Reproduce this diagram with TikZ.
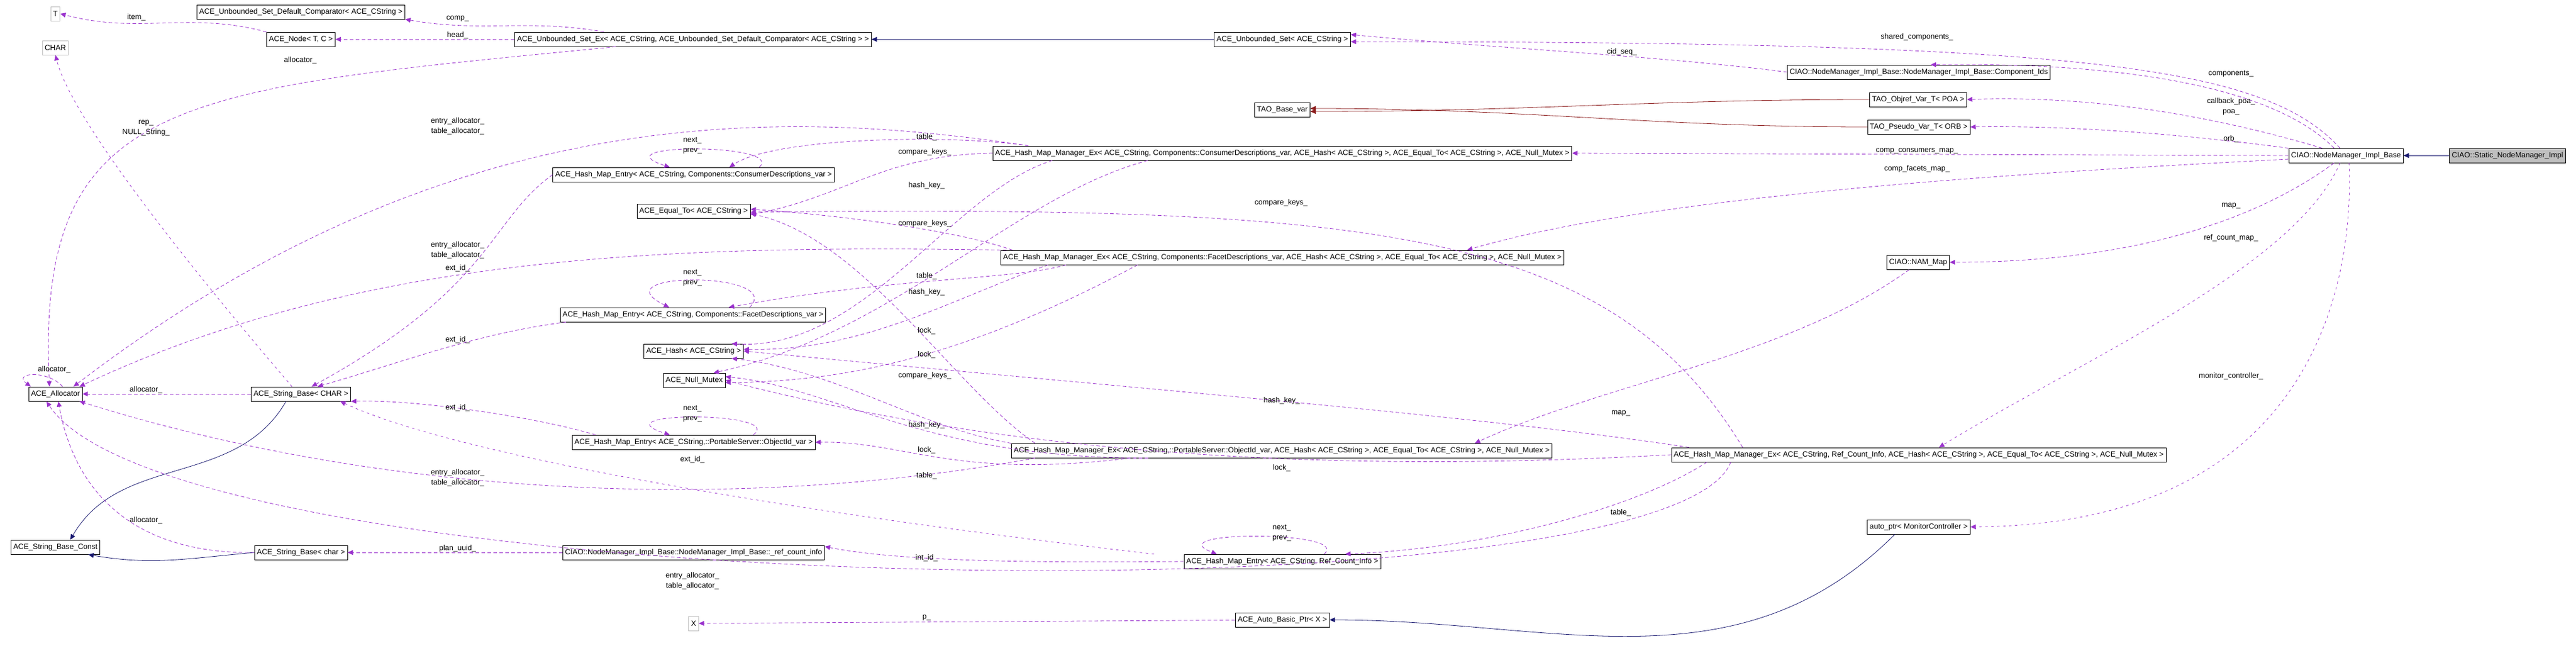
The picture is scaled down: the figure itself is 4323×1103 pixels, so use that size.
\documentclass[tikz,border=0pt]{standalone}
\usepackage{fontspec}
\setmainfont{Liberation Sans}
\usetikzlibrary{arrows.meta}
\definecolor{dorchid}{RGB}{154,50,205}
\definecolor{mnavy}{RGB}{25,25,112}
\definecolor{fbrick}{RGB}{139,26,26}
\newcommand\lbl{\fontsize{12.6}{17}\selectfont}
\AtBeginDocument{\catcode`\_=12}
\begin{document}
\begin{tikzpicture}[x=1pt, y=-1pt,
    cls/.style = {draw=black, thick, rectangle, minimum height=24, inner sep=4, font=\lbl, fill=white},
    undoc/.style = {cls, draw=black!25},
    lab/.style = {font=\lbl, inner sep=1, align=center},
    mem/.style = {draw=dorchid, thick, dash pattern=on 6 off 4, -{Triangle[length=9,width=8]}},
    inh/.style = {draw=mnavy, thick, -{Triangle[length=9,width=8]}},
    tpl/.style = {draw=fbrick, thick, -{Triangle[length=9,width=8]}}
  ]
  \useasboundingbox (0,0) rectangle (4323,1103);
  % classes, column by column
  \node[undoc] (T) at (93,23) {T};
  \node[undoc] (char) at (93,80) {CHAR};
  \node[cls] (alloc) at (93,661) {ACE_Allocator};
  \node[cls] (sbconst) at (93,918) {ACE_String_Base_Const};

  \node[cls] (cmp) at (505,20) {ACE_Unbounded_Set_Default_Comparator< ACE_CString >};
  \node[cls] (anode) at (505,66) {ACE_Node< T, C >};
  \node[cls] (sbC) at (505,661) {ACE_String_Base< CHAR >};
  \node[cls] (sbc) at (505,927) {ACE_String_Base< char >};

  \node[cls] (useex) at (1163,66) {ACE_Unbounded_Set_Ex< ACE_CString, ACE_Unbounded_Set_Default_Comparator< ACE_CString > >};
  \node[cls] (ce) at (1164,293) {ACE_Hash_Map_Entry< ACE_CString, Components::ConsumerDescriptions_var >};
  \node[cls] (eq) at (1164,354) {ACE_Equal_To< ACE_CString >};
  \node[cls] (fe) at (1163,528) {ACE_Hash_Map_Entry< ACE_CString, Components::FacetDescriptions_var >};
  \node[cls] (hash) at (1164,589) {ACE_Hash< ACE_CString >};
  \node[cls] (nm) at (1165,638) {ACE_Null_Mutex};
  \node[cls] (pe) at (1164,742) {ACE_Hash_Map_Entry< ACE_CString,::PortableServer::ObjectId_var >};
  \node[cls] (rci) at (1164,927) {CIAO::NodeManager_Impl_Base::NodeManager_Impl_Base::_ref_count_info};
  \node[undoc] (X) at (1164,1046) {X};

  \node[cls] (uset) at (2152,66) {ACE_Unbounded_Set< ACE_CString >};
  \node[cls] (tbv) at (2152,184) {TAO_Base_var};
  \node[cls] (cmgr) at (2152,257) {ACE_Hash_Map_Manager_Ex< ACE_CString, Components::ConsumerDescriptions_var, ACE_Hash< ACE_CString >, ACE_Equal_To< ACE_CString >, ACE_Null_Mutex >};
  \node[cls] (fmgr) at (2152,432) {ACE_Hash_Map_Manager_Ex< ACE_CString, Components::FacetDescriptions_var, ACE_Hash< ACE_CString >, ACE_Equal_To< ACE_CString >, ACE_Null_Mutex >};
  \node[cls] (pmgr) at (2151,756) {ACE_Hash_Map_Manager_Ex< ACE_CString,::PortableServer::ObjectId_var, ACE_Hash< ACE_CString >, ACE_Equal_To< ACE_CString >, ACE_Null_Mutex >};
  \node[cls] (re) at (2152,942) {ACE_Hash_Map_Entry< ACE_CString, Ref_Count_Info >};
  \node[cls] (abp) at (2152,1040) {ACE_Auto_Basic_Ptr< X >};

  \node[cls] (cids) at (3220,121) {CIAO::NodeManager_Impl_Base::NodeManager_Impl_Base::Component_Ids};
  \node[cls] (objref) at (3219,167) {TAO_Objref_Var_T< POA >};
  \node[cls] (pseudo) at (3220,213) {TAO_Pseudo_Var_T< ORB >};
  \node[cls] (nam) at (3219,440) {CIAO::NAM_Map};
  \node[cls] (rmgr) at (3220,763) {ACE_Hash_Map_Manager_Ex< ACE_CString, Ref_Count_Info, ACE_Hash< ACE_CString >, ACE_Equal_To< ACE_CString >, ACE_Null_Mutex >};
  \node[cls] (aptr) at (3220,884) {auto_ptr< MonitorController >};

  \node[cls] (nmib) at (3937,261) {CIAO::NodeManager_Impl_Base};
  \node[cls, fill=black!25] (stat) at (4208,261) {CIAO::Static_NodeManager_Impl};

  % inheritance
  \draw[inh] (stat) -- (nmib);
  \draw[inh] (uset) -- (useex);
  \draw[inh] ([xshift=-25]sbC.south) to[out=240,in=60] ([xshift=25]sbconst.north);
  \draw[inh] (sbc.west) to[out=185,in=-10] ([xshift=-20]sbconst.south east);
  \draw[inh] ([xshift=-40]aptr.south) to[out=225,in=0] (abp.east);
  \draw[tpl] (objref.west) to[out=180,in=0] ([yshift=-3]tbv.east);
  \draw[tpl] (pseudo.west) to[out=180,in=0] ([yshift=2]tbv.east);

  % members, left part
  \draw[mem] (anode.north west) to[out=165,in=-15] (T.east);
  \draw[mem] ([xshift=150]useex.north west) to[out=170,in=-10] (cmp.south east);
  \draw[mem] (useex.west) -- (anode.east);
  \draw[mem] ([xshift=170]useex.south west) .. controls (300,150) and (60,160) .. ([xshift=-10]alloc.north);
  \draw[mem, dash pattern=on 4 off 6] ([xshift=-15]sbC.north) .. controls (320,450) and (120,200) .. (char.south);
  \draw[mem] ([xshift=12]alloc.north) .. controls (80,620) and (20,625) .. ([xshift=4]alloc.north west);
  \draw[mem] (sbC) -- (alloc);
  \draw[mem] (sbc.west) .. controls (200,930) and (120,800) .. ([xshift=5]alloc.south);
  \draw[mem] ([xshift=60]cmgr.north west) .. controls (1300,180) and (750,170) .. ([xshift=-15]alloc.north east);
  \draw[mem] ([xshift=10]fmgr.north west) .. controls (1100,410) and (600,430) .. ([xshift=-5]alloc.north east);
  \draw[mem] ([xshift=40]pmgr.south west) .. controls (1300,850) and (700,850) .. ([xshift=-5]alloc.south east);
  \draw[mem] ([xshift=100]rmgr.south west) .. controls (2800,1050) and (300,1010) .. ([xshift=-15]alloc.south);

  % next_ / prev_ loops
  \draw[mem] ([xshift=110]ce.north) .. controls (1320,240) and (1000,240) .. ([xshift=-40]ce.north);
  \draw[mem] ([xshift=95]fe.north) .. controls (1320,455) and (1000,455) .. ([xshift=-40]fe.north);
  \draw[mem] ([xshift=100]pe.north) .. controls (1320,690) and (1000,690) .. ([xshift=-40]pe.north);
  \draw[mem] ([xshift=70]re.north) .. controls (2270,890) and (1940,890) .. ([xshift=-110]re.north);

  % ext_id_
  \draw[mem] (ce.west) .. controls (820,370) and (830,480) .. ([xshift=18]sbC.north);
  \draw[mem] ([xshift=10]fe.south west) .. controls (800,560) and (700,600) .. ([xshift=28]sbC.north);
  \draw[mem] ([xshift=40]pe.north west) .. controls (900,700) and (700,670) .. (sbC.south east);
  \draw[mem, dash pattern=on 4 off 6] ([xshift=-50]re.north west) .. controls (1500,880) and (800,780) .. ([xshift=-18]sbC.south east);

  % hash map managers
  \draw[mem] ([xshift=60]cmgr.north west) .. controls (1600,225) and (1300,230) .. ([xshift=60]ce.north);
  \draw[mem] (cmgr.west) .. controls (1480,260) and (1420,330) .. ([yshift=-6]eq.east);
  \draw[mem] ([xshift=100]cmgr.south west) .. controls (1600,320) and (1450,590) .. ([xshift=-20]hash.north east);
  \draw[mem] ([xshift=260]cmgr.south west) .. controls (1700,330) and (1500,560) .. ([xshift=-20]nm.north east);
  \draw[mem] ([xshift=20]fmgr.north west) .. controls (1600,385) and (1400,360) .. ([yshift=3]eq.east);
  \draw[mem] ([xshift=110]fmgr.south west) .. controls (1700,470) and (1500,465) .. ([xshift=60]fe.north);
  \draw[mem] ([xshift=80]fmgr.south west) .. controls (1600,500) and (1450,590) .. ([yshift=3]hash.east);
  \draw[mem] ([xshift=230]fmgr.south west) .. controls (1600,610) and (1400,640) .. ([yshift=-4]nm.east);
  \draw[mem] ([xshift=40]pmgr.north west) .. controls (1600,650) and (1450,400) .. ([yshift=8]eq.south east);
  \draw[mem] (pmgr.north west) .. controls (1550,720) and (1400,620) .. ([xshift=-20]hash.south east);
  \draw[mem] ([xshift=230]pmgr.south west) .. controls (1550,770) and (1400,650) .. ([yshift=6]nm.east);
  \draw[mem] ([xshift=200]pmgr.south west) .. controls (1600,805) and (1520,740) .. (pe.east);
  \draw[mem] ([xshift=120]rmgr.north west) .. controls (2700,380) and (2300,345) .. ([yshift=-2]eq.east);
  \draw[mem] ([xshift=30]rmgr.north west) .. controls (2500,700) and (2000,660) .. (hash.east);
  \draw[mem] (rmgr.west) .. controls (2400,785) and (1800,790) .. (nm.east);
  \draw[mem] ([xshift=60]rmgr.south west) .. controls (2750,850) and (2500,920) .. ([xshift=-60]re.north east);
  \draw[mem] (re.west) .. controls (1700,945) and (1500,940) .. ([yshift=10]rci.east);
  \draw[mem] (rci) -- (sbc);
  \draw[mem] (abp) -- (X);

  % members of CIAO::NodeManager_Impl_Base
  \draw[mem] ([xshift=-10]nmib.north) .. controls (3800,110) and (3500,70) .. ([yshift=-4]uset.east);
  \draw[mem] (cids.west) .. controls (2800,95) and (2500,80) .. ([yshift=8]uset.east);
  \draw[mem] ([xshift=-20]nmib.north) .. controls (3800,130) and (3500,105) .. ([xshift=20]cids.north);
  \draw[mem] ([xshift=-40]nmib.north) .. controls (3700,190) and (3500,160) .. (objref.east);
  \draw[mem] (nmib.north west) .. controls (3700,230) and (3500,210) .. (pseudo.east);
  \draw[mem] (nmib.west) -- (cmgr.east);
  \draw[mem] ([yshift=-6]nmib.west) .. controls (3500,285) and (2800,320) .. ([xshift=310]fmgr.north);
  \draw[mem] ([xshift=-20]nmib.south) .. controls (3800,360) and (3600,440) .. (nam.east);
  \draw[mem, dash pattern=on 4 off 6] ([xshift=-10]nmib.south) .. controls (3850,450) and (3500,600) .. ([xshift=34]rmgr.north);
  \draw[mem, dash pattern=on 4 off 6] ([xshift=5]nmib.south) .. controls (3950,450) and (3900,880) .. (aptr.east);
  \draw[mem] ([xshift=-15]nam.south) .. controls (3000,600) and (2700,640) .. ([xshift=-130]pmgr.north east);

  % member names
  \node[lab] (litem) at (229,29) {item_};
  \node[lab] (lcomp) at (768,31) {comp_};
  \node[lab] (lhead) at (768,59) {head_};
  \node[lab] (lalloc) at (504,101) {allocator_};
  \node[lab] (lrep) at (245,215) {rep_\\NULL_String_};
  \node[lab] (lea1) at (768,212) {entry_allocator_\\table_allocator_};
  \node[lab] (lnp1) at (1162,244) {next_\\prev_};
  \node[lab] (lea2) at (768,420) {entry_allocator_\\table_allocator_};
  \node[lab] (lext1) at (768,450) {ext_id_};
  \node[lab] (lnp2) at (1162,466) {next_\\prev_};
  \node[lab] (lext2) at (768,570) {ext_id_};
  \node[lab] (lallocs) at (91,620) {allocator_};
  \node[lab] (lallocC) at (245,654) {allocator_};
  \node[lab] (lext3) at (768,684) {ext_id_};
  \node[lab] (lnp3) at (1162,694) {next_\\prev_};
  \node[lab] (lext4) at (1162,771) {ext_id_};
  \node[lab] (lea3) at (768,802) {entry_allocator_\\table_allocator_};
  \node[lab] (lallocc) at (245,873) {allocator_};
  \node[lab] (lplan) at (768,920) {plan_uuid_};
  \node[lab] (lea4) at (1162,975) {entry_allocator_\\table_allocator_};
  \node[lab] (lcid) at (2722,87) {cid_seq_};
  \node[lab] (ltab1) at (1555,230) {table_};
  \node[lab] (lck1) at (1552,255) {compare_keys_};
  \node[lab] (lhk1) at (1555,311) {hash_key_};
  \node[lab] (lck4) at (2150,340) {compare_keys_};
  \node[lab] (lck2) at (1552,375) {compare_keys_};
  \node[lab] (ltab2) at (1555,463) {table_};
  \node[lab] (lhk2) at (1555,490) {hash_key_};
  \node[lab] (llk1) at (1555,555) {lock_};
  \node[lab] (llk2) at (1555,595) {lock_};
  \node[lab] (lck3) at (1552,630) {compare_keys_};
  \node[lab] (lhk4) at (2151,672) {hash_key_};
  \node[lab] (lmap2) at (2720,693) {map_};
  \node[lab] (lhk3) at (1555,713) {hash_key_};
  \node[lab] (llk3) at (1555,755) {lock_};
  \node[lab] (llk4) at (2151,785) {lock_};
  \node[lab] (ltab3) at (1555,798) {table_};
  \node[lab] (ltab4) at (2720,860) {table_};
  \node[lab] (lnp4) at (2151,894) {next_\\prev_};
  \node[lab] (lint) at (1555,936) {int_id_};
  \node[lab] (lp) at (1555,1036) {p_};
  \node[lab] (lshared) at (3217,62) {shared_components_};
  \node[lab] (lcomps) at (3744,124) {components_};
  \node[lab] (lpoa) at (3744,179) {callback_poa_\\poa_};
  \node[lab] (lorb) at (3744,233) {orb_};
  \node[lab] (lccm) at (3217,253) {comp_consumers_map_};
  \node[lab] (lcfm) at (3217,283) {comp_facets_map_};
  \node[lab] (lmap) at (3744,345) {map_};
  \node[lab] (lrcm) at (3744,399) {ref_count_map_};
  \node[lab] (lmon) at (3744,631) {monitor_controller_};
\end{tikzpicture}
\end{document}
